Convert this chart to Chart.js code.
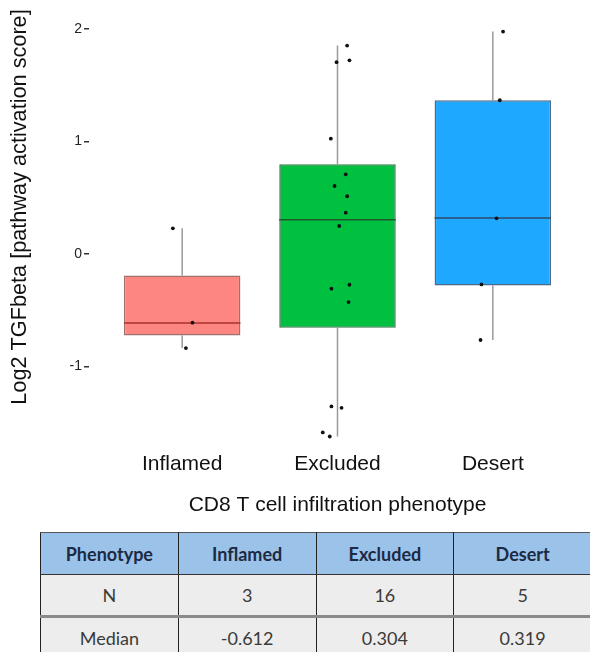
<!DOCTYPE html>
<html>
<head>
<meta charset="utf-8">
<script src="https://cdn.jsdelivr.net/npm/chart.js@4/dist/chart.umd.min.js"></script>
<style>
  body { margin: 0; background: #fff; width: 590px; height: 652px; overflow: hidden; position: relative; }
  #chart { position: absolute; left: 0; top: 0; }
  table { position: absolute; left: 40px; top: 532px; width: 552px; border-collapse: collapse; table-layout: fixed; font-family: Lato, "Open Sans", sans-serif; font-size: 18px; }
  td, th { border-left: 1.5px solid #222; border-right: 1.5px solid #222; text-align: center; padding: 0; }
  th { background: #9bc2e8; color: #1c2a44; font-weight: bold; height: 41px; border-top: 1.5px solid #555; border-bottom: 1.5px solid #333; }
  td { background: #ededed; color: #3a3a3a; height: 40px; }
  tr.n td { border-bottom: 3px solid #8a8a8a; }
</style>
</head>
<body>
<canvas id="chart" width="590" height="528"></canvas>
<table id="stats"></table>
<script>
const categories = ['Inflamed', 'Excluded', 'Desert'];
const q1 = [-0.724, -0.655, -0.28];
const q3 = [-0.19, 0.797, 1.366];
const medians = [-0.612, 0.304, 0.319];
const whiskerLo = [-0.836, -1.621, -0.764];
const whiskerHi = [0.228, 1.852, 1.976];
const counts = [3, 16, 5];

// jittered sample points (x = group position + jitter)
const pointX = [0.94, 1.066, 1.024,
  2.062, 1.994, 2.077, 1.957, 2.053, 1.981, 2.062, 2.053, 2.011, 1.961, 2.077, 2.071, 1.961, 2.026, 1.905, 1.950,
  3.066, 3.045, 3.024, 2.927, 2.921];
const pointY = [0.228, -0.61, -0.836,
  1.852, 1.704, 1.721, 1.025, 0.708, 0.604, 0.513, 0.367, 0.249, -0.308, -0.273, -0.427, -1.354, -1.366, -1.585, -1.621,
  1.976, 1.366, 0.317, -0.27, -0.764];

const yTicks = [-1, 0, 1, 2];

const fills = ['#fd8780', '#00c040', '#1ea8ff'];
const borders = ['#a07070', '#2e7d4a', '#4a6a8a'];
const medianColors = ['#a83232', '#1f5a30', '#2c4a6a'];

// table
const tbl = document.getElementById('stats');
tbl.innerHTML =
  '<tr><th>Phenotype</th>' + categories.map(c => '<th>' + c + '</th>').join('') + '</tr>' +
  '<tr class="n"><td>N</td>' + counts.map(c => '<td>' + c + '</td>').join('') + '</tr>' +
  '<tr><td>Median</td>' + medians.map(m => '<td>' + m.toFixed(3) + '</td>').join('') + '</tr>';

const boxParts = {
  id: 'boxParts',
  beforeDatasetsDraw(chart) {
    const ctx = chart.ctx, xs = chart.scales.x, ys = chart.scales.y;
    ctx.save();
    ctx.strokeStyle = '#9a9a9a';
    ctx.lineWidth = 1.5;
    categories.forEach((c, i) => {
      const px = xs.getPixelForValue(i + 1);
      ctx.beginPath();
      ctx.moveTo(px, ys.getPixelForValue(whiskerHi[i]));
      ctx.lineTo(px, ys.getPixelForValue(q3[i]));
      ctx.moveTo(px, ys.getPixelForValue(q1[i]));
      ctx.lineTo(px, ys.getPixelForValue(whiskerLo[i]));
      ctx.stroke();
    });
    ctx.restore();
  },
  afterDatasetDraw(chart, args) {
    if (args.meta.type !== 'bar') return;
    const ctx = chart.ctx, ys = chart.scales.y;
    ctx.save();
    ctx.lineWidth = 1.5;
    args.meta.data.forEach((bar, i) => {
      const py = ys.getPixelForValue(medians[i]);
      ctx.strokeStyle = medianColors[i];
      ctx.beginPath();
      ctx.moveTo(bar.x - bar.width / 2, py);
      ctx.lineTo(bar.x + bar.width / 2, py);
      ctx.stroke();
    });
    ctx.restore();
  },
  afterDraw(chart) {
    const ctx = chart.ctx;
    ctx.save();
    ctx.translate(20, 207);
    ctx.rotate(-Math.PI / 2);
    ctx.font = '21.7px "Liberation Sans", Arial, sans-serif';
    ctx.fillStyle = '#111';
    ctx.textAlign = 'center';
    ctx.textBaseline = 'middle';
    ctx.fillText('Log2 TGFbeta [pathway activation score]', 0, 0);
    ctx.restore();
  }
};

new Chart(document.getElementById('chart'), {
  data: {
    datasets: [
      {
        type: 'bar',
        order: 2,
        data: categories.map((c, i) => ({ x: i + 1, y: [q1[i], q3[i]] })),
        backgroundColor: fills,
        borderColor: borders,
        borderWidth: 1.5,
        borderSkipped: false,
        barPercentage: 0.75,
        categoryPercentage: 1
      },
      {
        type: 'scatter',
        order: 1,
        data: pointX.map((x, i) => ({ x: x, y: pointY[i] })),
        backgroundColor: '#111',
        borderWidth: 0,
        pointRadius: 1.9
      }
    ]
  },
  options: {
    responsive: false,
    animation: false,
    layout: { padding: { top: 12, right: 3, bottom: 10, left: 0 } },
    plugins: { legend: { display: false }, tooltip: { enabled: false } },
    scales: {
      x: {
        type: 'linear',
        min: 0.4,
        max: 3.6,
        offset: false,
        afterBuildTicks: s => { s.ticks = categories.map((c, i) => ({ value: i + 1 })); },
        afterFit: s => { s.height = 67; },
        border: { display: false },
        grid: { display: false, drawTicks: false },
        ticks: {
          padding: 1,
          color: '#111',
          font: { family: '"Liberation Sans", Arial, sans-serif', size: 21 },
          callback: v => categories[v - 1]
        },
        title: {
          display: true,
          text: 'CD8 T cell infiltration phenotype',
          color: '#111',
          padding: 0,
          font: { family: '"Liberation Sans", Arial, sans-serif', size: 21 }
        }
      },
      y: {
        min: -1.75,
        max: 2.15,
        afterBuildTicks: s => { s.ticks = yTicks.map(v => ({ value: v })); },
        afterFit: s => { s.width = 89; },
        border: { display: false },
        grid: { drawOnChartArea: false, drawTicks: true, tickLength: 5, color: '#333', lineWidth: 1.5 },
        ticks: {
          padding: 2,
          color: '#222',
          font: { family: '"Liberation Sans", Arial, sans-serif', size: 14 }
        }
      }
    }
  },
  plugins: [boxParts]
});
</script>
</body>
</html>
